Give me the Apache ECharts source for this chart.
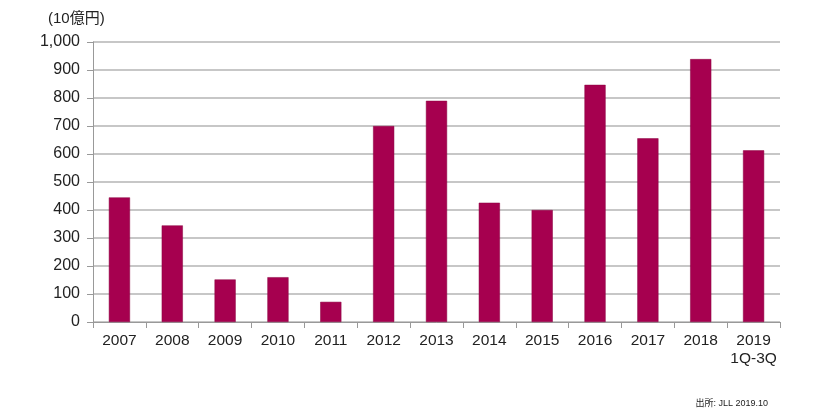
<!DOCTYPE html>
<html><head><meta charset="utf-8">
<script src="https://cdn.jsdelivr.net/npm/echarts@6/dist/echarts.min.js"></script>
<style>html,body{margin:0;padding:0;background:#fff}#c{width:833px;height:417px}</style>
</head><body><div id="c"></div>
<script>
const categories = ['2007','2008','2009','2010','2011','2012','2013','2014','2015','2016','2017','2018','2019\n1Q-3Q'];
const values = [445, 345, 152, 160, 72, 700, 790, 426, 400, 847, 656, 939, 613];
const unitLabel = '(10億円)';
const sourceText = '出所: JLL 2019.10';
const chart = echarts.init(document.getElementById('c'));
const font = '"Liberation Sans", Arial, sans-serif';
chart.setOption({
  animation: false,
  graphic: [
    {type:'text', left: 48, top: 11, style:{text: unitLabel, font: '15px "Liberation Sans", "Noto Sans CJK JP", sans-serif', fill:'#222'}},
    {type:'text', right: 65, top: 399, style:{text: sourceText, font: '9px "Liberation Sans", "Noto Sans CJK JP", sans-serif', fill:'#222'}}
  ],
  grid: {left: 93, right: 53, top: 42, bottom: 95},
  xAxis: {
    type: 'category', data: categories,
    axisLine: {lineStyle:{color:'#999', width:1}},
    axisTick: {show:true, alignWithLabel:false, length:6, lineStyle:{color:'#999'}},
    axisLabel: {color:'#222', fontSize:15.5, fontFamily: font, margin:10, lineHeight:18, interval:0}
  },
  yAxis: {
    type: 'value', min: 0, max: 1000, interval: 100,
    axisLine: {show:true, lineStyle:{color:'#999', width:1}},
    axisTick: {show:true, inside:false, length:6, lineStyle:{color:'#999'}},
    splitLine: {lineStyle:{color:'#b5b5b5', width:1.5}},
    axisLabel: {color:'#222', fontSize:16, fontFamily: font, margin:13,
      formatter: v => v.toLocaleString('en-US')}
  },
  series: [{
    type: 'bar', data: values, barWidth: '40%',
    itemStyle: {color:'#A6004F', borderColor:'#8a0040', borderWidth:0.5}
  }]
});
</script></body></html>
